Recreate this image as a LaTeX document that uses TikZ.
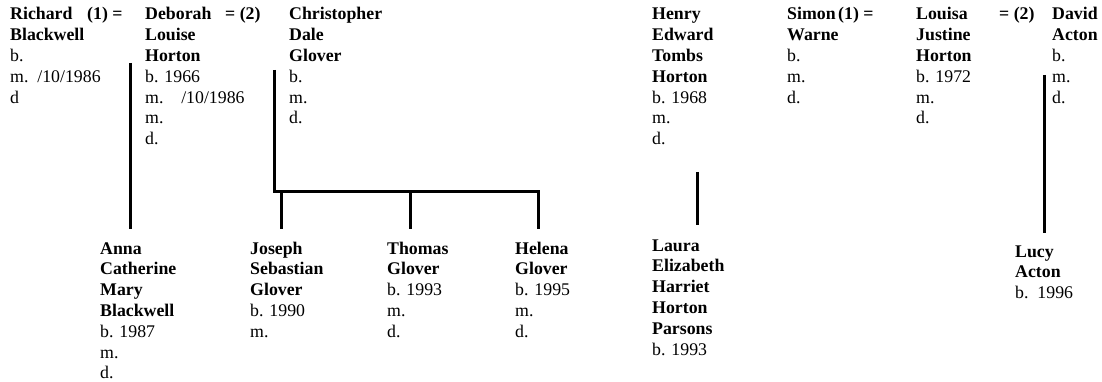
\documentclass[tikz,border=0pt]{standalone}
\usepackage{fontspec}
\setmainfont{Liberation Serif}
\frenchspacing
\begin{document}
\begin{tikzpicture}[x=1pt,y=-1pt,
  person/.style={anchor=base west, inner sep=0pt, text width=140pt, align=left,
    font=\fontsize{17.8}{20.8}\selectfont\frenchspacing},
  eqlabel/.style={anchor=base west, inner sep=0pt, font=\fontsize{17.8}{20.8}\selectfont\bfseries},
  conn/.style={line width=3pt}]
\useasboundingbox (0,0) rectangle (1102,382);
% top row
\node[person] (rich) at (10,20) {\textbf{Richard}\\\textbf{Blackwell}\\b.\\m.\hspace{0.5em}/10/1986\\d};
\node[eqlabel] (eq1) at (87,20) {(1) =};
\node[person] (deb) at (145,20) {\textbf{Deborah}\\\textbf{Louise}\\\textbf{Horton}\\b. 1966\\m.\hspace{1em}/10/1986\\m.\\d.};
\node[eqlabel] (eq2) at (225,20) {= (2)};
\node[person] (chris) at (289,20) {\textbf{Christopher}\\\textbf{Dale}\\\textbf{Glover}\\b.\\m.\\d.};
\node[person] (henry) at (652,20) {\textbf{Henry}\\\textbf{Edward}\\\textbf{Tombs}\\\textbf{Horton}\\b. 1968\\m.\\d.};
\node[person] (simon) at (787,20) {\textbf{Simon}\\\textbf{Warne}\\b.\\m.\\d.};
\node[eqlabel] (eq3) at (838,20) {(1) =};
\node[person] (louisa) at (916,20) {\textbf{Louisa}\\\textbf{Justine}\\\textbf{Horton}\\b. 1972\\m.\\d.};
\node[eqlabel] (eq4) at (999,20) {= (2)};
\node[person] (david) at (1052,20) {\textbf{David}\\\textbf{Acton}\\b.\\m.\\d.};
% bottom row
\node[person] (anna) at (100,254) {\textbf{Anna}\\\textbf{Catherine}\\\textbf{Mary}\\\textbf{Blackwell}\\b. 1987\\m.\\d.};
\node[person] (joseph) at (250,254) {\textbf{Joseph}\\\textbf{Sebastian}\\\textbf{Glover}\\b. 1990\\m.};
\node[person] (thomas) at (387,254) {\textbf{Thomas}\\\textbf{Glover}\\b. 1993\\m.\\d.};
\node[person] (helena) at (515,254) {\textbf{Helena}\\\textbf{Glover}\\b. 1995\\m.\\d.};
\node[person] (laura) at (652,251) {\textbf{Laura}\\\textbf{Elizabeth}\\\textbf{Harriet}\\\textbf{Horton}\\\textbf{Parsons}\\b. 1993};
\node[person] (lucy) at (1015,257) {\textbf{Lucy}\\\textbf{Acton}\\b.\hspace{0.5em}1996};
% connector points
\coordinate (m1) at (130,63);
\coordinate (anna top) at (130,229);
\coordinate (m2) at (274,70);
\coordinate (bar left) at (274,191.7);
\coordinate (bar right) at (538,191.7);
\coordinate (joseph bar) at (281.7,191.7);
\coordinate (joseph top) at (281.7,229);
\coordinate (thomas bar) at (410,191.7);
\coordinate (thomas top) at (410,229);
\coordinate (helena top) at (538,229);
\coordinate (henry bot) at (697,172);
\coordinate (laura top) at (697,225);
\coordinate (m4) at (1044,75);
\coordinate (lucy top) at (1044,233);
% connectors
\draw[conn] (m1) -- (anna top);
\draw[conn] (m2) -- (bar left) -- (bar right) -- (helena top);
\draw[conn] (joseph bar) -- (joseph top);
\draw[conn] (thomas bar) -- (thomas top);
\draw[conn] (henry bot) -- (laura top);
\draw[conn] (m4) -- (lucy top);
\end{tikzpicture}
\end{document}
